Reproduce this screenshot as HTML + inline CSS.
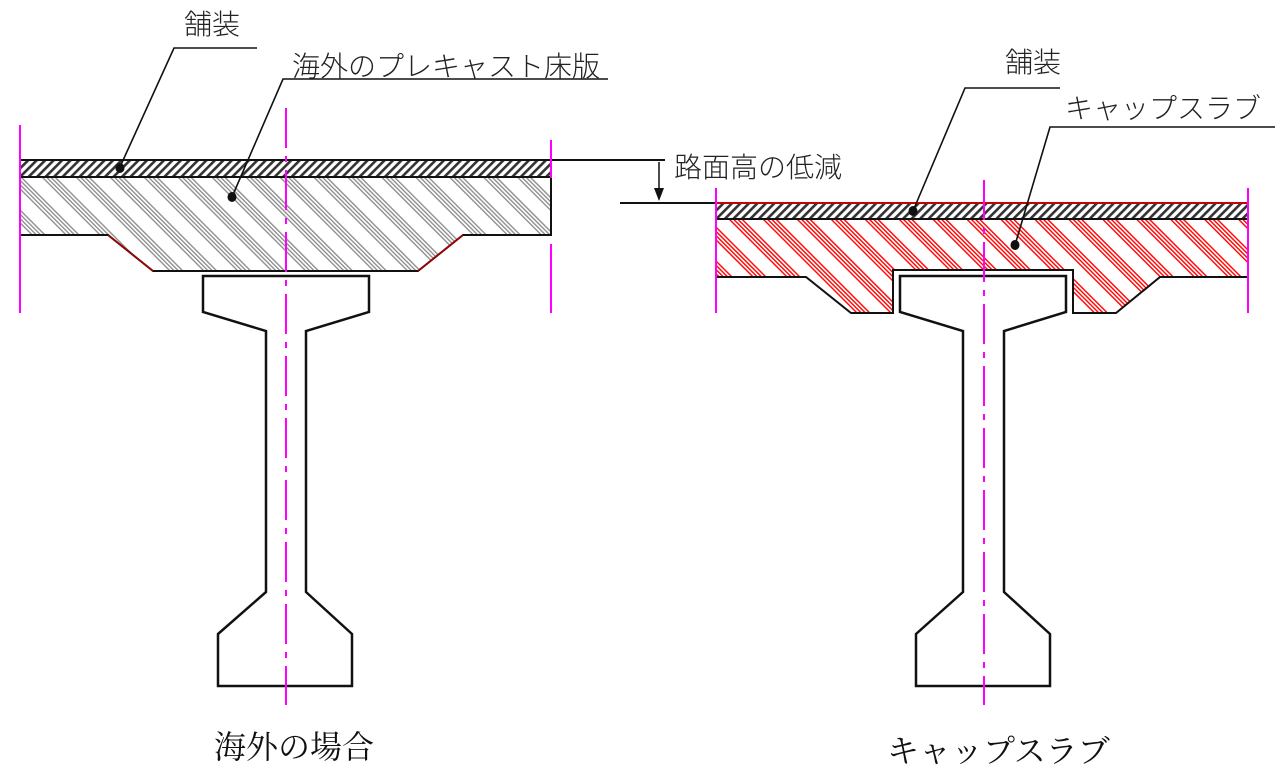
<!DOCTYPE html>
<html><head><meta charset="utf-8">
<style>
html,body{margin:0;padding:0;background:#fff;}
svg{display:block;}
text{font-family:"Liberation Sans","Noto Sans CJK JP",sans-serif;font-weight:300;fill:#222;}
.serif{font-family:"Liberation Serif","Noto Serif CJK SC",serif;font-weight:400;fill:#111;}
</style></head>
<body>
<svg width="1280" height="779" viewBox="0 0 1280 779" xmlns="http://www.w3.org/2000/svg">
<defs>
<pattern id="pav" width="6" height="6" patternUnits="userSpaceOnUse" patternTransform="rotate(45)">
<rect width="6" height="6" fill="#fff"/><rect x="0" y="0" width="2.6" height="6" fill="#333"/>
</pattern>
<pattern id="slabG" width="24" height="24" patternUnits="userSpaceOnUse" patternTransform="rotate(-45)">
<rect width="24" height="24" fill="#fff"/>
<rect x="0" y="0" width="1.3" height="24" fill="#888"/>
<rect x="3" y="0" width="1.3" height="24" fill="#888"/>
<rect x="6" y="0" width="1.3" height="24" fill="#888"/>
<rect x="9" y="0" width="1.3" height="24" fill="#888"/>
</pattern>
<pattern id="slabR" width="24" height="24" patternUnits="userSpaceOnUse" patternTransform="rotate(-45)">
<rect width="24" height="24" fill="#fff"/>
<rect x="0" y="0" width="1.4" height="24" fill="#f00"/>
<rect x="3" y="0" width="1.4" height="24" fill="#f00"/>
<rect x="6" y="0" width="1.4" height="24" fill="#f00"/>
<rect x="9" y="0" width="1.4" height="24" fill="#f00"/>
</pattern>
</defs>

<!-- LEFT -->
<rect x="20" y="160" width="531" height="17" fill="url(#pav)" stroke="#111" stroke-width="2"/>
<path d="M20,177 H551 V235 H463 L418,271 H153 L108,235 H20 Z" fill="url(#slabG)" stroke="#111" stroke-width="2"/>
<path d="M108,235 L153,271 M463,235 L418,271" stroke="#a00" stroke-width="1.5" fill="none"/>
<path d="M203,276 H369 V312 L306,331 V592 L352,634 V686 H218 V634 L266,592 V331 L203,312 Z" fill="#fff" stroke="#111" stroke-width="2.5"/>
<line x1="551" y1="160" x2="665" y2="160" stroke="#111" stroke-width="2"/>

<!-- RIGHT -->
<rect x="716" y="203" width="532" height="16" fill="url(#pav)" stroke="#111" stroke-width="2"/>
<line x1="716" y1="203" x2="1248" y2="203" stroke="#f00" stroke-width="1.5"/>
<path d="M716,219 H1248 V277 H1160 L1116,313 H1073 V270 H893 V313 H851 L806,277 H716 Z" fill="url(#slabR)" stroke="#111" stroke-width="2"/>
<path d="M900,276 H1066 V312 L1004,331 V592 L1050,634 V686 H916 V634 L963,592 V331 L900,312 Z" fill="#fff" stroke="#111" stroke-width="2.5"/>
<line x1="620" y1="203" x2="716" y2="203" stroke="#111" stroke-width="2"/>
<line x1="659" y1="162" x2="659" y2="192" stroke="#111" stroke-width="1.5"/>
<path d="M654,188 L664,188 L659,201 Z" fill="#111"/>

<g stroke="#f0f" stroke-width="2">
<line x1="20" y1="125" x2="20" y2="313"/>
<line x1="551" y1="140" x2="551" y2="178"/>
<line x1="551" y1="244" x2="551" y2="313"/>
<line x1="286" y1="108" x2="286" y2="705" stroke-dasharray="40,8,6,8"/>
<line x1="716" y1="188" x2="716" y2="313"/>
<line x1="1248" y1="188" x2="1248" y2="313"/>
<line x1="984" y1="180" x2="984" y2="705" stroke-dasharray="40,8,6,8"/>
</g>

<!-- leaders -->
<g stroke="#111" stroke-width="1.6" fill="none">
<polyline points="257,48 174,48 120,167"/>
<polyline points="608,79 283,79 232,197"/>
<polyline points="1060,88 965,88 913,211"/>
<polyline points="1275,127 1050,127 1015,245"/>
</g>
<g fill="#111">
<ellipse cx="120" cy="168" rx="4.5" ry="5"/>
<ellipse cx="232" cy="197" rx="4.5" ry="5"/>
<ellipse cx="913" cy="211" rx="4.5" ry="5"/>
<ellipse cx="1015" cy="245" rx="4.5" ry="5"/>
</g>

<text x="184" y="34" font-size="28">舗装</text>
<text x="292" y="76" font-size="28">海外のプレキャスト床版</text>
<text x="1005" y="72" font-size="28">舗装</text>
<text x="1065" y="118" font-size="28">キャップスラブ</text>
<text x="674" y="177" font-size="28">路面高の低減</text>
<text class="serif" x="214" y="758" font-size="32">海外の場合</text>
<text class="serif" x="887" y="762" font-size="32">キャップスラブ</text>
</svg>
</body></html>
